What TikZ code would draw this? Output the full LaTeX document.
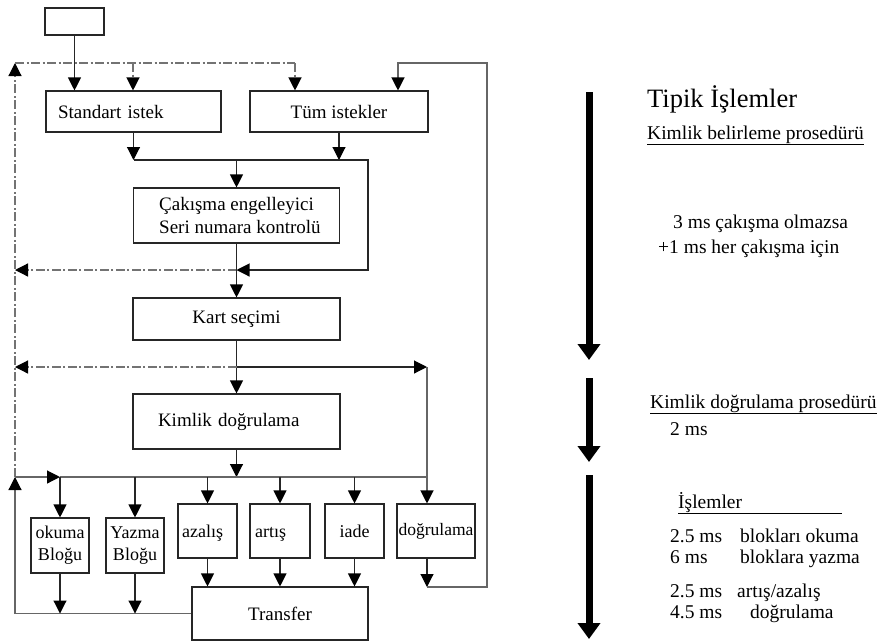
\documentclass[tikz,border=0pt]{standalone}
\usepackage{fontspec}
\setmainfont{Liberation Serif}
\usetikzlibrary{arrows.meta}

\newcommand{\boxfont}{\fontsize{19}{23}\selectfont}
\newcommand{\smallfont}{\fontsize{18}{22}\selectfont}
\newcommand{\notefont}{\fontsize{19.5}{23}\selectfont}
\newcommand{\titlefont}{\fontsize{26.5}{30}\selectfont}

\begin{document}
\begin{tikzpicture}[x=1pt,y=-1pt,
  box/.style={draw=black!85, line width=1.1pt, inner sep=0pt, font=\boxfont},
  sbox/.style={box, font=\smallfont, minimum height=55pt},
  lbl/.style={anchor=base west, inner sep=0pt, font=\smallfont},
  ln/.style={draw=black!85, line width=1.1pt},
  gl/.style={draw=black!60, line width=1.2pt},
  dd/.style={draw=black!55, line width=1.2pt, dash pattern=on 9pt off 2.5pt on 2pt off 2.5pt},
  arr/.style={-{Triangle[length=13pt,width=13pt,color=black]}},
  big/.style={line width=7pt, -{Triangle[length=16pt,width=22pt]}},
  note/.style={anchor=base west, inner sep=0pt, font=\notefont},
]
\useasboundingbox (0,0) rectangle (881,641);

% ---------- process boxes ----------
\node[box, minimum width=59pt, minimum height=27pt] (start) at (74.5,21.5) {};
\node[box, minimum width=175pt, minimum height=41pt, text width=151pt, inner xsep=12pt, align=left] (std) at (133.5,111.5) {Standart istek};
\node[box, minimum width=178pt, minimum height=41pt] (tum) at (339,111.5) {Tüm istekler};
\node[box, minimum width=206pt, minimum height=55pt] (cak) at (236.5,215.5) {};
\node[anchor=west, align=left, inner sep=0pt, font=\boxfont] (caktxt) at (159,215) {Çakışma engelleyici\\Seri numara kontrolü};
\node[box, minimum width=207pt, minimum height=42pt] (kart) at (236.5,319) {Kart seçimi};
\node[box, minimum width=207pt, minimum height=55pt, text width=157pt, inner xsep=25pt, align=left] (kim) at (236.5,421.5) {Kimlik doğrulama};

\node[sbox, minimum width=58pt, align=center] (oku) at (60,545.5) {okuma\\Bloğu};
\node[sbox, minimum width=58pt, align=center] (yaz) at (135,545.5) {Yazma\\Bloğu};
\node[sbox, minimum width=59pt, minimum height=54pt] (aza) at (207.5,531) {};
\node[lbl] (azatxt) at (182,537) {azalış};
\node[sbox, minimum width=60pt, minimum height=54pt] (art) at (280,531) {};
\node[lbl] (arttxt) at (255,537) {artış};
\node[sbox, minimum width=59pt, minimum height=54pt] (iade) at (354.5,531) {iade};
\node[sbox, minimum width=78pt, minimum height=54pt, font=\fontsize{17.5}{21}\selectfont] (dog) at (436,531) {doğrulama};
\node[box, minimum width=176pt, minimum height=53pt] (tra) at (280,613.5) {Transfer};

% ---------- bend points ----------
\coordinate (lt) at (15,63);
\coordinate (lm) at (15,477);
\coordinate (lb) at (15,613.5);
\coordinate (ta) at (133,63);
\coordinate (tb) at (295,63);
\coordinate (rt) at (487,63);
\coordinate (rc) at (398,63);
\coordinate (rb) at (487,587);
\coordinate (dx) at (427,587);
\coordinate (mg) at (237,160);
\coordinate (mr) at (368,160);
\coordinate (ms) at (368,270);
\coordinate (cx) at (236.5,270);
\coordinate (kx) at (236.5,367);
\coordinate (kr) at (427,367);
\coordinate (bus) at (236.5,477);
\coordinate (br) at (427,477);

% ---------- connectors ----------
\draw[ln,arr] (start.south) -- (start.south |- std.north);
\draw[dd,arr] (lm) -- (lt);
\draw[dd] (lt) -- (tb);
\draw[dd,arr] (ta) -- (ta |- std.north);
\draw[dd,arr] (tb) -- (tb |- tum.north);

\draw[ln,arr] (dx |- dog.south) -- (dx);
\draw[gl,arr] (dx) -- (rb) -- (rt) -- (rc) -- (rc |- tum.north);

\draw[ln,arr] (std.south) -- (std.south |- mg);
\draw[ln,arr] (tum.south) -- (tum.south |- mg);
\draw[ln,arr] (std.south |- mg) -- (mr) -- (ms) -- (cx);
\draw[ln,arr] (cak.north |- mg) -- (cak.north);
\draw[dd,arr] (cx) -- (lt |- cx);

\draw[ln,arr] (cak.south) -- (kart.north);
\draw[ln,arr] (kart.south) -- (kim.north);
\draw[dd,arr] (kx) -- (lt |- kx);
\draw[ln,arr] (kx) -- (kr);
\draw[gl,arr] (kr) -- (kr |- dog.north);

\draw[ln,arr] (kim.south) -- (bus);
\draw[gl] (tra.west) -- (lb);
\draw[gl,arr] (lb) -- (lm);
\draw[gl,arr] (lm) -- (oku.north |- lm);
\draw[gl] (oku.north |- lm) -- (br);
\foreach \n in {oku,yaz,aza,art,iade}
  \draw[ln,arr] (\n.north |- lm) -- (\n.north);
\foreach \n in {aza,art,iade}
  \draw[ln,arr] (\n.south) -- (\n.south |- tra.north);
\foreach \n in {oku,yaz}
  \draw[ln,arr] (\n.south) -- (\n.south |- tra.west);

% ---------- timeline ----------
\coordinate (t1a) at (589,92);
\coordinate (t1b) at (589,360);
\coordinate (t2a) at (589,378);
\coordinate (t2b) at (589,462);
\coordinate (t3a) at (589,475);
\coordinate (t3b) at (589,639);
\draw[big] (t1a) -- (t1b);
\draw[big] (t2a) -- (t2b);
\draw[big] (t3a) -- (t3b);

\node[note, font=\titlefont] (title) at (647,107) {Tipik İşlemler};
\node[note] (h1) at (647,139) {\underline{Kimlik belirleme prosedürü}};
\node[note] (h1a) at (673,228) {3 ms çakışma olmazsa};
\node[note] (h1b) at (658,253) {+1 ms her çakışma için};
\node[note] (h2) at (650,408) {\underline{Kimlik doğrulama prosedürü}};
\node[note] (h2a) at (670,435) {2 ms};
\node[note] (h3) at (678,508) {\underline{İşlemler\hspace*{100pt}}};
\node[note] (r1a) at (670,542) {2.5 ms};
\node[note] (r1b) at (740,542) {blokları okuma};
\node[note] (r2a) at (670,563) {6 ms};
\node[note] (r2b) at (740,563) {bloklara yazma};
\node[note] (r3a) at (670,597) {2.5 ms};
\node[note] (r3b) at (737,597) {artış/azalış};
\node[note] (r4a) at (670,618) {4.5 ms};
\node[note] (r4b) at (750,618) {doğrulama};
\end{tikzpicture}
\end{document}
